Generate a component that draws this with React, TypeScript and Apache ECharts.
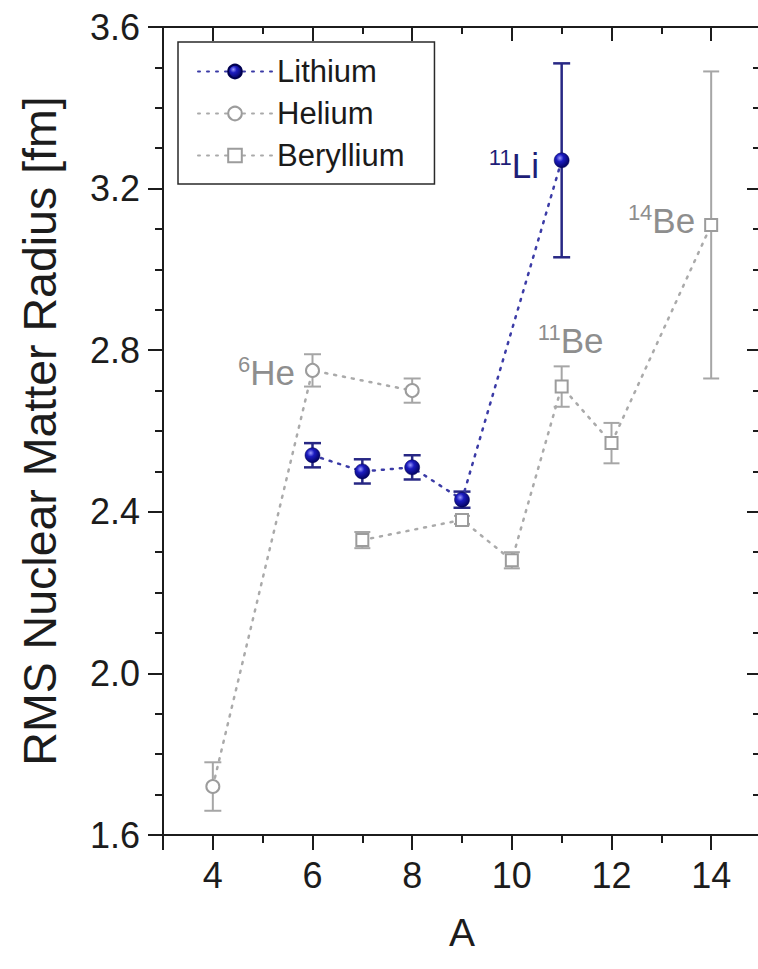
import React, { useEffect, useRef } from "react";
import * as echarts from "echarts";

// ---- data ----
const lithiumA = [6, 7, 8, 9, 11];
const lithiumR = [2.54, 2.5, 2.51, 2.43, 3.27];
const lithiumErr = [0.03, 0.03, 0.03, 0.02, 0.24];

const heliumA = [4, 6, 8];
const heliumR = [1.72, 2.75, 2.7];
const heliumErr = [0.06, 0.04, 0.03];

const berylliumA = [7, 9, 10, 11, 12, 14];
const berylliumR = [2.33, 2.38, 2.28, 2.71, 2.57, 3.11];
const berylliumErr = [0.02, 0.01, 0.02, 0.05, 0.05, 0.38];

const seriesNames = ["Lithium", "Helium", "Beryllium"];
const xRange = [3, 15];
const yRange = [1.6, 3.6];
const yStep = 0.4;

// annotated nuclei: [series, mass number, superscript, symbol]
const annotations: [string, number, string, string][] = [
  ["Lithium", 11, "11", "Li"],
  ["Helium", 6, "6", "He"],
  ["Beryllium", 11, "11", "Be"],
  ["Beryllium", 14, "14", "Be"],
];

const FONT = '"Liberation Sans", Arial, Helvetica, sans-serif';
const BLUE_TEXT = "#1e1e78";
const GREY_TEXT = "#8e8e8e";
const AXIS = "#1c1c1c";

const labelPlacement: Record<string, any> = {
  "Lithium-11": { position: "left", distance: 15, offset: [0, 5] },
  "Helium-6": { position: "left", distance: 10, offset: [0, 2] },
  "Beryllium-11": { position: "top", distance: 20, offset: [9, 0] },
  "Beryllium-14": { position: "left", distance: 9, offset: [0, -4] },
};

function buildData(name: string, xs: number[], ys: number[]) {
  return xs.map((x, i) => {
    const ann = annotations.find((a) => a[0] === name && a[1] === x);
    if (!ann) return { value: [x, ys[i]] };
    const color = name === "Lithium" ? BLUE_TEXT : GREY_TEXT;
    const place = labelPlacement[name + "-" + x];
    return {
      value: [x, ys[i]],
      label: {
        show: true,
        ...place,
        formatter: "{s|" + ann[2] + "}{b|" + ann[3] + "}",
        rich: {
          s: { fontSize: 22, fontFamily: FONT, color, verticalAlign: "top", lineHeight: 22 },
          b: { fontSize: 35, fontFamily: FONT, color, lineHeight: 38 },
        },
      },
    };
  });
}

function errorBars(xs: number[], ys: number[], errs: number[], color: string, capW: number, width: number) {
  return {
    type: "custom",
    xAxisIndex: 0,
    yAxisIndex: 0,
    silent: true,
    z: 2,
    data: xs.map((x, i) => [x, ys[i] - errs[i], ys[i] + errs[i]]),
    encode: { x: 0, y: [1, 2] },
    renderItem: (_params: any, api: any) => {
      const lo = api.coord([api.value(0), api.value(1)]);
      const hi = api.coord([api.value(0), api.value(2)]);
      const style = { stroke: color, lineWidth: width, fill: "none" };
      return {
        type: "group",
        children: [
          { type: "line", shape: { x1: lo[0], y1: lo[1], x2: hi[0], y2: hi[1] }, style },
          { type: "line", shape: { x1: lo[0] - capW / 2, y1: lo[1], x2: lo[0] + capW / 2, y2: lo[1] }, style },
          { type: "line", shape: { x1: hi[0] - capW / 2, y1: hi[1], x2: hi[0] + capW / 2, y2: hi[1] }, style },
        ],
      };
    },
  };
}

export default function App() {
  const ref = useRef<HTMLDivElement>(null);

  useEffect(() => {
    if (!ref.current) return;
    const chart = echarts.init(ref.current, undefined, { renderer: "svg" });

    const liGradient = {
      type: "radial",
      x: 0.38,
      y: 0.35,
      r: 0.7,
      colorStops: [
        { offset: 0, color: "#9a9aff" },
        { offset: 0.35, color: "#1c1cc0" },
        { offset: 1, color: "#00005a" },
      ],
    };

    const majorX = {
      type: "value",
      min: xRange[0],
      max: xRange[1],
      splitNumber: 5,
      splitLine: { show: false },
    };

    chart.setOption({
      animation: false,
      backgroundColor: "#ffffff",
      grid: {
        left: 163,
        top: 27,
        width: 598,
        height: 808,
        containLabel: false,
        outerBoundsMode: "none",
      },
      legend: {
        data: seriesNames,
        orient: "vertical",
        left: 178,
        top: 42,
        padding: [14, 30, 13, 19],
        itemWidth: 74,
        itemHeight: 17,
        itemGap: 11,
        itemTextGap: 12,
        backgroundColor: "#ffffff",
        borderColor: "#2a2a2a",
        borderWidth: 1.5,
        borderRadius: 0,
        textStyle: { fontSize: 31, fontFamily: FONT, color: "#1a1a1a", lineHeight: 30 },
        z: 10,
      },
      xAxis: [
        {
          ...majorX,
          position: "bottom",
          name: "A",
          nameLocation: "middle",
          nameGap: 78,
          nameTextStyle: { fontSize: 39, fontFamily: FONT, color: AXIS },
          axisLine: { show: true, onZero: false, lineStyle: { color: AXIS, width: 2 } },
          axisTick: { show: true, inside: false, length: 15, lineStyle: { color: AXIS, width: 2 } },
          axisLabel: {
            show: true,
            margin: 22,
            fontSize: 36,
            fontFamily: FONT,
            color: AXIS,
            formatter: (v: number) => (v % 2 === 0 ? String(v) : ""),
          },
        },
        {
          type: "value",
          min: xRange[0],
          max: xRange[1],
          interval: 1,
          position: "bottom",
          axisLine: { show: false, onZero: false },
          axisTick: { show: true, inside: false, length: 8, lineStyle: { color: AXIS, width: 2 } },
          axisLabel: { show: false },
          splitLine: { show: false },
        },
        {
          ...majorX,
          position: "top",
          axisLine: { show: true, onZero: false, lineStyle: { color: AXIS, width: 2 } },
          axisTick: { show: true, inside: true, length: 14, lineStyle: { color: AXIS, width: 2 } },
          axisLabel: { show: false },
        },
        {
          type: "value",
          min: xRange[0],
          max: xRange[1],
          interval: 1,
          position: "top",
          axisLine: { show: false, onZero: false },
          axisTick: { show: true, inside: true, length: 7, lineStyle: { color: AXIS, width: 2 } },
          axisLabel: { show: false },
          splitLine: { show: false },
        },
      ],
      yAxis: [
        {
          type: "value",
          min: yRange[0],
          max: yRange[1],
          interval: yStep,
          position: "left",
          name: "RMS Nuclear Matter Radius [fm]",
          nameLocation: "middle",
          nameGap: 100,
          nameTextStyle: { fontSize: 46.5, fontFamily: FONT, color: AXIS },
          axisLine: { show: true, onZero: false, lineStyle: { color: AXIS, width: 2 } },
          axisTick: { show: true, inside: false, length: 15, lineStyle: { color: AXIS, width: 2 } },
          minorTick: { show: true, splitNumber: 4, length: 8, lineStyle: { color: AXIS, width: 2 } },
          axisLabel: {
            show: true,
            margin: 23,
            fontSize: 36,
            fontFamily: FONT,
            color: AXIS,
            formatter: (v: number) => v.toFixed(1),
          },
          splitLine: { show: false },
        },
        {
          type: "value",
          min: yRange[0],
          max: yRange[1],
          interval: yStep,
          position: "right",
          axisLine: { show: true, onZero: false, lineStyle: { color: AXIS, width: 2 } },
          axisTick: { show: true, inside: true, length: 14, lineStyle: { color: AXIS, width: 2 } },
          minorTick: { show: true, splitNumber: 4, length: 8, lineStyle: { color: AXIS, width: 2 } },
          axisLabel: { show: false },
          splitLine: { show: false },
        },
      ],
      series: [
        errorBars(heliumA, heliumR, heliumErr, "#a6a6a6", 17, 2),
        errorBars(berylliumA, berylliumR, berylliumErr, "#a6a6a6", 16, 2),
        errorBars(lithiumA, lithiumR, lithiumErr, "#272784", 17, 2.5),
        {
          name: "Helium",
          type: "line",
          xAxisIndex: 0,
          yAxisIndex: 0,
          z: 3,
          data: buildData("Helium", heliumA, heliumR),
          symbol: "emptyCircle",
          symbolSize: 13,
          itemStyle: { color: "#9c9c9c", borderWidth: 2 },
          lineStyle: { color: "#aaaaaa", width: 2.5, type: [2, 7], cap: "round" },
        },
        {
          name: "Beryllium",
          type: "line",
          xAxisIndex: 0,
          yAxisIndex: 0,
          z: 3,
          data: buildData("Beryllium", berylliumA, berylliumR),
          symbol: "emptyRect",
          symbolSize: 12,
          itemStyle: { color: "#9c9c9c", borderWidth: 2 },
          lineStyle: { color: "#aaaaaa", width: 2.5, type: [2, 7], cap: "round" },
        },
        {
          name: "Lithium",
          type: "line",
          xAxisIndex: 0,
          yAxisIndex: 0,
          z: 4,
          data: buildData("Lithium", lithiumA, lithiumR),
          symbol: "circle",
          symbolSize: 15,
          itemStyle: { color: liGradient, borderColor: "#000050", borderWidth: 0.5 },
          lineStyle: { color: "#3b3ba6", width: 2.5, type: [2, 7], cap: "round" },
        },
      ],
    });

    return () => chart.dispose();
  }, []);

  return (
    <div
      ref={ref}
      style={{ position: "absolute", left: 0, top: 0, width: 758, height: 969, background: "#fff" }}
    />
  );
}
